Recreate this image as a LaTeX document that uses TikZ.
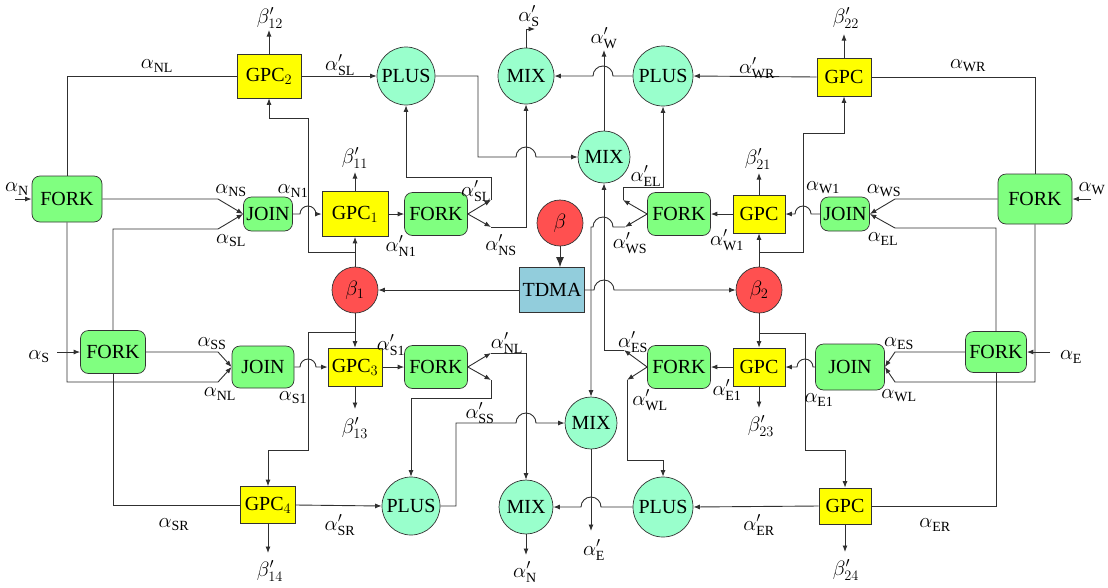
\documentclass[tikz,border=0pt]{standalone}
\usepackage{fontspec}
\setmainfont{Liberation Serif}
\usetikzlibrary{arrows.meta}
\definecolor{cyel}{HTML}{FFFF00}
\definecolor{cgrn}{HTML}{80FF80}
\definecolor{caq}{HTML}{99FFCC}
\definecolor{cred}{HTML}{FF5050}
\definecolor{ctd}{HTML}{92CDDC}
\definecolor{cln}{HTML}{303030}
\begin{document}
\begin{tikzpicture}[x=1pt,y=-1pt,
  ln/.style={draw=cln,line width=0.9pt},
  arr/.style={ln,-{Latex[length=6.5pt,width=5pt]}},
  nodefont/.style={font=\fontsize{20}{22}\selectfont},
  yb/.style={draw=black!80,fill=cyel,line width=0.7pt,inner sep=0pt,nodefont},
  gb/.style={draw=black!80,fill=cgrn,line width=0.7pt,rounded corners=8pt,inner sep=0pt,nodefont},
  aq/.style={circle,draw=black!80,fill=caq,line width=0.7pt,inner sep=0pt,nodefont},
  rc/.style={circle,draw=black!80,fill=cred,line width=0.7pt,inner sep=0pt,minimum size=46pt,font=\fontsize{21}{23}\selectfont},
  tb/.style={draw=black!80,fill=ctd,line width=0.7pt,inner sep=0pt,nodefont},
  lab/.style={inner sep=0pt,font=\fontsize{20}{22}\selectfont}
]
\useasboundingbox (0,0) rectangle (1108,587);

% ---------- nodes ----------
\node[gb,minimum width=70pt,minimum height=46pt] (fl1) at (67,199) {FORK};
\node[gb,minimum width=65pt,minimum height=43pt] (fl2) at (113,352) {FORK};
\node[gb,minimum width=49pt,minimum height=34pt] (jl1) at (268,214) {JOIN};
\node[gb,minimum width=62pt,minimum height=42pt] (jl3) at (263,367) {JOIN};
\node[yb,minimum width=66pt,minimum height=45pt] (g1) at (355,214) {GPC$_1$};
\node[yb,minimum width=64pt,minimum height=44pt] (g2) at (269,76) {GPC$_2$};
\node[yb,minimum width=54pt,minimum height=38pt] (g3) at (355,367) {GPC$_3$};
\node[yb,minimum width=55pt,minimum height=37pt] (g4) at (268,505) {GPC$_4$};
\node[gb,minimum width=63pt,minimum height=43pt] (fc1) at (436,214) {FORK};
\node[gb,minimum width=63pt,minimum height=43pt] (fc3) at (436,367) {FORK};
\node[rc] (b1) at (355,290) {$\beta_1$};
\node[rc] (bt) at (560,223) {$\beta$};
\node[tb,minimum width=65pt,minimum height=45pt] (tdma) at (552,290) {TDMA};
\node[rc] (b2) at (759,290) {$\beta_2$};
\node[aq,minimum size=58pt] (pl1) at (406,76) {PLUS};
\node[aq,minimum size=56pt] (mx1) at (526,76) {MIX};
\node[aq,minimum size=52pt] (mx2) at (604,157) {MIX};
\node[aq,minimum size=60pt] (pr1) at (663,76) {PLUS};
\node[yb,minimum width=54pt,minimum height=38pt] (gr2) at (844,77) {GPC};
\node[gb,minimum width=63pt,minimum height=43pt] (fr1) at (679,214) {FORK};
\node[yb,minimum width=52pt,minimum height=38pt] (gr1) at (759,214) {GPC};
\node[gb,minimum width=49pt,minimum height=34pt] (jr1) at (845,214) {JOIN};
\node[gb,minimum width=74pt,minimum height=50pt] (fe1) at (1035,199) {FORK};
\node[gb,minimum width=61pt,minimum height=41pt] (fe2) at (996,352) {FORK};
\node[gb,minimum width=69pt,minimum height=46pt] (jr3) at (850,367) {JOIN};
\node[yb,minimum width=52pt,minimum height=38pt] (gr3) at (759,367) {GPC};
\node[gb,minimum width=63pt,minimum height=43pt] (fr3) at (679,367) {FORK};
\node[aq,minimum size=52pt] (mx3) at (591,423) {MIX};
\node[aq,minimum size=58pt] (pl3) at (411,506) {PLUS};
\node[aq,minimum size=54pt] (mx4) at (526,507) {MIX};
\node[aq,minimum size=60pt] (pr3) at (663,507) {PLUS};
\node[yb,minimum width=52pt,minimum height=36pt] (gr4) at (845,506) {GPC};

% ---------- free ends / bends ----------
\coordinate (inN) at (15,199);
\coordinate (inS) at (57,352);
\coordinate (inW) at (1091,199);
\coordinate (inE) at (1050,352);
\coordinate (k1) at (355,252);
\coordinate (k3) at (355,332);
\coordinate (k2) at (759,252);
\coordinate (k4) at (759,333);
\coordinate (o11) at (355,172);
\coordinate (o12) at (269,30);
\coordinate (o13) at (355,409);
\coordinate (o14) at (268,553);
\coordinate (o21) at (759,173);
\coordinate (o22) at (844,34);
\coordinate (o23) at (759,408);
\coordinate (o24) at (845,552);
\coordinate (oS) at (535,29);
\coordinate (oW) at (604,50);
\coordinate (oE) at (591,531);
\coordinate (oN) at (526,555);
\coordinate (p1) at (491,200);
\coordinate (p2) at (491,227);
\coordinate (p3) at (491,353);
\coordinate (p4) at (491,380);
\coordinate (q1) at (623,200);
\coordinate (q2) at (625,227);
\coordinate (q3) at (624,350);
\coordinate (q4) at (627,380);

% ---------- left side ----------
\draw[arr] (inN) -- (fl1.west);
\draw[ln] (fl1.north) |- (g2.west);
\draw[arr] (fl1.east) -- (218,199) -- (jl1.west);
\draw[arr] (fl1.south) -- (67,382) -- (218,382) -- (jl3.west);
\draw[arr] (inS) -- (fl2.west);
\draw[arr] (fl2.north) -- (113,229) -- (218,229) -- (jl1.west);
\draw[arr] (fl2.east) -- (218,352) -- (jl3.west);
\draw[ln] (fl2.south) |- (g4.west);

\draw[arr] (jl1.east) -- (300,214) arc[start angle=180,end angle=0,radius=8pt] -- (g1.west);
\draw[arr] (jl3.east) -- (300,367) arc[start angle=180,end angle=0,radius=8pt] -- (g3.west);

\draw[arr] (b1.north) -- (g1.south);
\draw[arr] (k1) -| (308,118) -| (g2.south);
\draw[arr] (b1.south) -- (g3.north);
\draw[arr] (k3) -| (308,450) -| (g4.north);

\draw[arr] (g1.north) -- (o11);
\draw[arr] (g2.north) -- (o12);
\draw[arr] (g3.south) -- (o13);
\draw[arr] (g4.south) -- (o14);
\draw[arr] (g2.east) -- (pl1.west);
\draw[arr] (g1.east) -- (fc1.west);
\draw[arr] (g3.east) -- (fc3.west);
\draw[arr] (g4.east) -- (pl3.west);

\draw[arr] (fc1.east) -- (p1);
\draw[arr] (fc1.east) -- (p2);
\draw[arr] (p1) -- (491,177) -| (pl1.south);
\draw[arr] (p2) -| (mx1.south);
\draw[arr] (pl1.east) -- (478,76) -- (478,157) -- (516,157) arc[start angle=180,end angle=0,radius=10pt] -- (mx2.west);

\draw[arr] (fc3.east) -- (p3);
\draw[arr] (fc3.east) -- (p4);
\draw[arr] (p3) -| (mx4.north);
\draw[arr] (p4) -- (491,398) -| (pl3.north);
\draw[arr] (pl3.east) -- (456,506) -- (456,423) -- (516,423) arc[start angle=180,end angle=0,radius=10pt] -- (mx3.west);

% ---------- centre ----------
\draw[arr] (pr1.west) -- (613,76) arc[start angle=0,end angle=180,radius=10pt] -- (mx1.east);
\draw[arr] (mx1.north) -- (526,29) -- (oS);
\draw[arr] (mx2.north) -- (oW);
\draw[arr] (tdma.west) -- (b1.east);
\draw[arr] (tdma.east) -- (594,290) arc[start angle=180,end angle=0,radius=10pt] -- (b2.west);
\draw[cln,line width=1pt,-{Latex[length=10pt,width=8pt]}] (bt.south) -- (tdma.north -| bt.south);
\draw[arr] (mx3.south) -- (oE);
\draw[arr] (pr3.west) -- (601,507) arc[start angle=0,end angle=180,radius=10pt] -- (mx4.east);
\draw[arr] (mx4.south) -- (oN);

% ---------- right side ----------
\draw[arr] (gr2.west) -- (pr1.east);
\draw[ln] (gr2.east) -| (fe1.north);
\draw[arr] (gr2.north) -- (o22);
\draw[arr] (b2.north) -- (gr1.south);
\draw[arr] (k2) -| (803,133) -| (gr2.south);
\draw[arr] (b2.south) -- (gr3.north);
\draw[arr] (k4) -| (805,450) -| (gr4.north);
\draw[arr] (jr1.west) -- (811,214) arc[start angle=0,end angle=180,radius=8pt] -- (gr1.east);
\draw[arr] (jr3.west) -- (813,367) arc[start angle=0,end angle=180,radius=8pt] -- (gr3.east);
\draw[arr] (gr1.north) -- (o21);
\draw[arr] (gr3.south) -- (o23);
\draw[arr] (gr4.south) -- (o24);
\draw[arr] (gr1.west) -- (fr1.east);
\draw[arr] (gr3.west) -- (fr3.east);
\draw[arr] (gr4.west) -- (pr3.east);

\draw[arr] (fr1.west) -- (q1);
\draw[arr] (fr1.west) -- (q2);
\draw[arr] (q1) -- (623,187) -| (pr1.south);
\draw[arr] (q2) -- (613,227) arc[start angle=0,end angle=180,radius=10pt] -- (591,227) -- (mx3.north);
\draw[arr] (fr3.west) -- (q3);
\draw[arr] (fr3.west) -- (q4);
\draw[arr] (q3) -| (mx2.south);
\draw[arr] (q4) -- (627,460) -| (pr3.north);

\draw[arr] (inW) -- (fe1.east);
\draw[arr] (fe1.west) -- (895,199) -- (jr1.east);
\draw[arr] (fe1.south) -- (1035,382) -- (895,382) -- (jr3.east);
\draw[arr] (inE) -- (fe2.east);
\draw[arr] (fe2.north) -- (996,228) -- (895,228) -- (jr1.east);
\draw[arr] (fe2.west) -- (895,352) -- (jr3.east);
\draw[ln] (fe2.south) |- (gr4.east);

% ---------- labels ----------
\node[lab] (tN) at (17,189) {$\alpha_{\mathrm{N}}$};
\node[lab] (tNL1) at (157,66) {$\alpha_{\mathrm{NL}}$};
\node[lab] (tNS) at (231,191) {$\alpha_{\mathrm{NS}}$};
\node[lab] (tSL) at (231,241) {$\alpha_{\mathrm{SL}}$};
\node[lab] (tN1) at (293,191) {$\alpha_{\mathrm{N1}}$};
\node[lab] (tS) at (39,357) {$\alpha_{\mathrm{S}}$};
\node[lab] (tSS) at (212,344) {$\alpha_{\mathrm{SS}}$};
\node[lab] (tNL2) at (220,394) {$\alpha_{\mathrm{NL}}$};
\node[lab] (tSR) at (174,525) {$\alpha_{\mathrm{SR}}$};
\node[lab] (tS1) at (293,398) {$\alpha_{\mathrm{S1}}$};
\node[lab] (b12) at (270,18) {$\beta'_{12}$};
\node[lab] (tSLp) at (340,65) {$\alpha'_{\mathrm{SL}}$};
\node[lab] (b11) at (355,158) {$\beta'_{11}$};
\node[lab] (tN1p) at (401,246) {$\alpha'_{\mathrm{N1}}$};
\node[lab] (tSLq) at (476,191) {$\alpha'_{\mathrm{SL}}$};
\node[lab] (tNSp) at (501,245) {$\alpha'_{\mathrm{NS}}$};
\node[lab] (tSp) at (529,16) {$\alpha'_{\mathrm{S}}$};
\node[lab] (tWp) at (604,38) {$\alpha'_{\mathrm{W}}$};
\node[lab] (tWRp) at (757,68) {$\alpha'_{\mathrm{WR}}$};
\node[lab] (tWR) at (968,66) {$\alpha_{\mathrm{WR}}$};
\node[lab] (b22) at (846,18) {$\beta'_{22}$};
\node[lab] (b21) at (758,159) {$\beta'_{21}$};
\node[lab] (tW1) at (823,188) {$\alpha_{\mathrm{W1}}$};
\node[lab] (tWS) at (884,191) {$\alpha_{\mathrm{WS}}$};
\node[lab] (tEL) at (883,239) {$\alpha_{\mathrm{EL}}$};
\node[lab] (tW) at (1092,189) {$\alpha_{\mathrm{W}}$};
\node[lab] (tELp) at (646,176) {$\alpha'_{\mathrm{EL}}$};
\node[lab] (tWSp) at (630,243) {$\alpha'_{\mathrm{WS}}$};
\node[lab] (tW1p) at (727,240) {$\alpha'_{\mathrm{W1}}$};
\node[lab] (tESp) at (633,342) {$\alpha'_{\mathrm{ES}}$};
\node[lab] (tS1p) at (391,345) {$\alpha'_{\mathrm{S1}}$};
\node[lab] (tNLp) at (507,343) {$\alpha'_{\mathrm{NL}}$};
\node[lab] (b13) at (355,428) {$\beta'_{13}$};
\node[lab] (tE1p) at (727,390) {$\alpha'_{\mathrm{E1}}$};
\node[lab] (b23) at (761,426) {$\beta'_{23}$};
\node[lab] (tE1) at (819,400) {$\alpha_{\mathrm{E1}}$};
\node[lab] (tES) at (899,344) {$\alpha_{\mathrm{ES}}$};
\node[lab] (tWL) at (899,396) {$\alpha_{\mathrm{WL}}$};
\node[lab] (tE) at (1071,357) {$\alpha_{\mathrm{E}}$};
\node[lab] (tWLp) at (650,400) {$\alpha'_{\mathrm{WL}}$};
\node[lab] (tSSp) at (480,413) {$\alpha'_{\mathrm{SS}}$};
\node[lab] (tSRp) at (340,525) {$\alpha'_{\mathrm{SR}}$};
\node[lab] (tEp) at (594,550) {$\alpha'_{\mathrm{E}}$};
\node[lab] (tNp) at (525,572) {$\alpha'_{\mathrm{N}}$};
\node[lab] (b14) at (270,571) {$\beta'_{14}$};
\node[lab] (tERp) at (759,525) {$\alpha'_{\mathrm{ER}}$};
\node[lab] (tER) at (935,525) {$\alpha_{\mathrm{ER}}$};
\node[lab] (b24) at (846,570) {$\beta'_{24}$};
\end{tikzpicture}
\end{document}
